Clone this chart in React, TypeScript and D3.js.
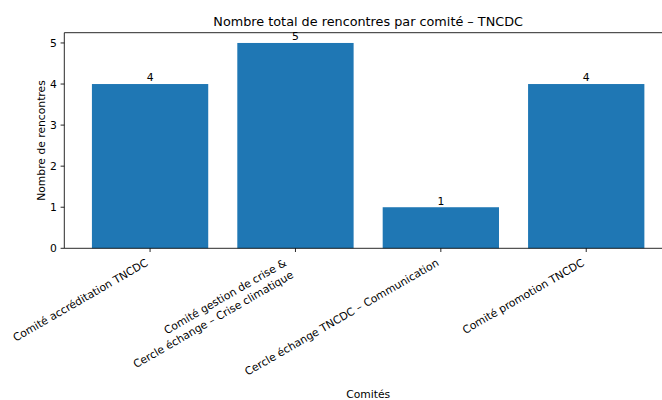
import * as d3 from "d3"

const categories = [
  "Comité accréditation TNCDC",
  "Comité gestion de crise &\nCercle échange – Crise climatique",
  "Cercle échange TNCDC – Communication",
  "Comité promotion TNCDC",
]
const counts = [4, 5, 1, 4]
const yTicks = [0, 1, 2, 3, 4, 5]

const title = "Nombre total de rencontres par comité – TNCDC"
const xTitle = "Comités"
const yTitle = "Nombre de rencontres"

const width = 662
const height = 400
const left = 64.3
const right = 672
const top = 32.7
const bottom = 248.3
const font = "DejaVu Sans, sans-serif"
const fs = 10.75
const tickLen = 3.7
const pad = 3.7

export default function App() {
  const x = d3
    .scaleLinear()
    .domain([-0.59, categories.length - 1 + 0.59])
    .range([left, right])
  const y = d3.scaleLinear().domain([0, 5.25]).range([bottom, top])
  const barW = x(0.8) - x(0)

  const asc = 0.78 * fs
  const desc = 0.24 * fs
  const lineH = 1.3 * fs
  const labelTop = bottom + tickLen + pad + 2

  return (
    <div style={{ position: "absolute", left: 0, top: 0 }}>
      <svg width={width} height={height} fontFamily={font}>
        <rect width={width} height={height} fill="white" />
        {counts.map((v, i) => (
          <rect
            key={i}
            x={x(i) - barW / 2}
            y={y(v)}
            width={barW}
            height={y(0) - y(v)}
            fill="#1f77b4"
          />
        ))}
        {counts.map((v, i) => (
          <text
            key={i}
            x={x(i)}
            y={y(v) - desc}
            fontSize={fs}
            textAnchor="middle"
          >
            {v}
          </text>
        ))}

        {/* spines */}
        <g stroke="black" strokeWidth={0.85} fill="none">
          <line x1={left} x2={left} y1={top} y2={bottom} />
          <line x1={left} x2={right} y1={bottom} y2={bottom} />
          <line x1={left} x2={right} y1={top} y2={top} />
          <line x1={right} x2={right} y1={top} y2={bottom} />
        </g>

        {/* y axis */}
        {yTicks.map((t) => (
          <g key={t} transform={`translate(${left},${y(t)})`}>
            <line x1={-tickLen} x2={0} stroke="black" strokeWidth={0.85} />
            <text
              x={-tickLen - pad}
              dy="0.35em"
              fontSize={fs}
              textAnchor="end"
            >
              {t}
            </text>
          </g>
        ))}

        {/* x axis */}
        {categories.map((c, i) => {
          const lines = c.split("\n")
          const yb = (lines.length - 1) * lineH + desc
          const ox = x(i) - 0.5 * yb
          const oy = labelTop + 0.866 * asc
          return (
            <g key={i}>
              <line
                x1={x(i)}
                x2={x(i)}
                y1={bottom}
                y2={bottom + tickLen}
                stroke="black"
                strokeWidth={0.85}
              />
              <g transform={`translate(${ox},${oy}) rotate(-30)`}>
                {lines.map((l, j) => (
                  <text key={j} x={0} y={j * lineH} fontSize={fs} textAnchor="end">
                    {l}
                  </text>
                ))}
              </g>
            </g>
          )
        })}

        <text
          x={(left + right) / 2}
          y={top - 7}
          fontSize={12.8}
          textAnchor="middle"
        >
          {title}
        </text>
        <text
          x={(left + right) / 2}
          y={398}
          fontSize={fs}
          textAnchor="middle"
        >
          {xTitle}
        </text>
        <text
          transform={`translate(${45},${(top + bottom) / 2}) rotate(-90)`}
          fontSize={fs}
          textAnchor="middle"
        >
          {yTitle}
        </text>
      </svg>
    </div>
  )
}
